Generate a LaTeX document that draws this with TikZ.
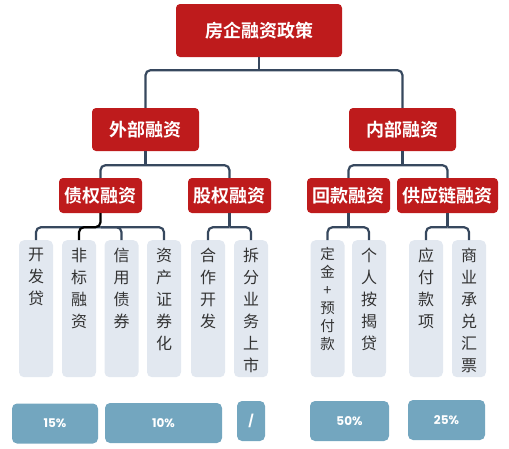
\documentclass[tikz,border=0pt]{standalone}
\usepackage{fontspec}
\usepackage{tikz}
\usetikzlibrary{positioning}
\usepackage{xcolor}
\newfontfamily\cjk{Noto Sans CJK SC}[BoldFont={Noto Sans CJK SC Bold}]
\newfontfamily\numfont{Poppins}
\definecolor{hdred}{RGB}{190,27,28}
\definecolor{lnk}{RGB}{55,72,94}
\definecolor{leafbg}{RGB}{226,232,240}
\definecolor{pctbg}{RGB}{115,166,191}
\newcommand{\vtext}[1]{\parbox[c][122pt][t]{24pt}{\centering #1}}

\begin{document}
\begin{tikzpicture}[x=1pt, y=-1pt,
  redbox/.style={fill=hdred, rounded corners=4pt, text=white, inner sep=0pt,
    font=\cjk\bfseries\fontsize{18}{20}\selectfont},
  leaf/.style={fill=leafbg, rounded corners=5pt, anchor=north, inner xsep=5pt,
    inner ysep=7.5pt, text=black!80, font=\cjk\fontsize{16}{22}\selectfont},
  pct/.style={fill=pctbg, rounded corners=5pt, text=white, inner sep=0pt,
    minimum height=40pt, font=\numfont\bfseries\fontsize{12}{14}\selectfont},
  conn/.style={draw=lnk, line width=2.2pt, rounded corners=5pt}
]
  \useasboundingbox (0,0) rectangle (509,448);

  \node[redbox, minimum width=166pt, minimum height=53pt] (root) at (259,30.5) {房企融资政策};
  \node[redbox, minimum width=107pt, minimum height=43pt] (ext) at (145.5,129.5) {外部融资};
  \node[redbox, minimum width=107pt, minimum height=43pt] (int) at (402.5,129.5) {内部融资};

  \node[redbox, minimum width=83pt, minimum height=35pt] (zq) at (100.5,195.5) {债权融资};
  \node[redbox, minimum width=83pt, minimum height=35pt] (gq) at (229.5,195.5) {股权融资};
  \node[redbox, minimum width=83pt, minimum height=35pt] (hk) at (348.5,195.5) {回款融资};
  \node[redbox, minimum width=101pt, minimum height=35pt] (gyl) at (447.5,195.5) {供应链融资};

  \node[leaf] (l1) at (36,240) {\vtext{开\\发\\贷}};
  \node[leaf] (l2) at (79,240) {\vtext{非\\标\\融\\资}};
  \node[leaf] (l3) at (121.5,240) {\vtext{信\\用\\债\\券}};
  \node[leaf] (l4) at (164,240) {\vtext{资\\产\\证\\券\\化}};
  \node[leaf] (l5) at (208,240) {\vtext{合\\作\\开\\发}};
  \node[leaf] (l6) at (251,240) {\vtext{拆\\分\\业\\务\\上\\市}};
  \node[leaf, font=\cjk\fontsize{14.5}{18}\selectfont] (l7) at (327.5,240) {\vtext{定\\金\\+\\预\\付\\款}};
  \node[leaf] (l8) at (369,240) {\vtext{个\\人\\按\\揭\\贷}};
  \node[leaf] (l9) at (426,240) {\vtext{应\\付\\款\\项}};
  \node[leaf] (l10) at (469,240) {\vtext{商\\业\\承\\兑\\汇\\票}};

  \node[pct, minimum width=86pt] (p1) at (55,423.5) {15\%};
  \node[pct, minimum width=117pt] (p2) at (163.5,423) {10\%};
  \node[pct, minimum width=28pt] (p3) at (251,421) {/};
  \node[pct, minimum width=79pt] (p4) at (349.5,421) {50\%};
  \node[pct, minimum width=77pt] (p5) at (446.5,420) {25\%};

  % trunk
  \draw[conn] (root.south) -- ++(0,13) coordinate (j0);
  \draw[conn] (ext.north) |- (j0) -| (int.north);

  \draw[conn] (ext.south) -- ++(0,14) coordinate (j1);
  \draw[conn] (zq.north) |- (j1) -| (gq.north);
  \draw[conn] (int.south) -- ++(0,14) coordinate (j2);
  \draw[conn] (hk.north) |- (j2) -| (gyl.north);

  % leaves
  \path (zq.south) -- ++(0,14) coordinate (j3);
  \path (gq.south) -- ++(0,14) coordinate (j4);
  \path (hk.south) -- ++(0,14) coordinate (j5);
  \path (gyl.south) -- ++(0,14) coordinate (j6);
  \foreach \c in {l1,l3,l4} { \draw[conn] (\c.north) |- (j3); }
  \foreach \c in {l5,l6} { \draw[conn] (\c.north) |- (j4); }
  \foreach \c in {l7,l8} { \draw[conn] (\c.north) |- (j5); }
  \foreach \c in {l9,l10} { \draw[conn] (\c.north) |- (j6); }
  \draw[conn, draw=black] (l2.north) |- (j3) -- (zq.south);
  \draw[conn] (gq.south) -- (j4);
  \draw[conn] (hk.south) -- (j5);
  \draw[conn] (gyl.south) -- (j6);
\end{tikzpicture}
\end{document}
